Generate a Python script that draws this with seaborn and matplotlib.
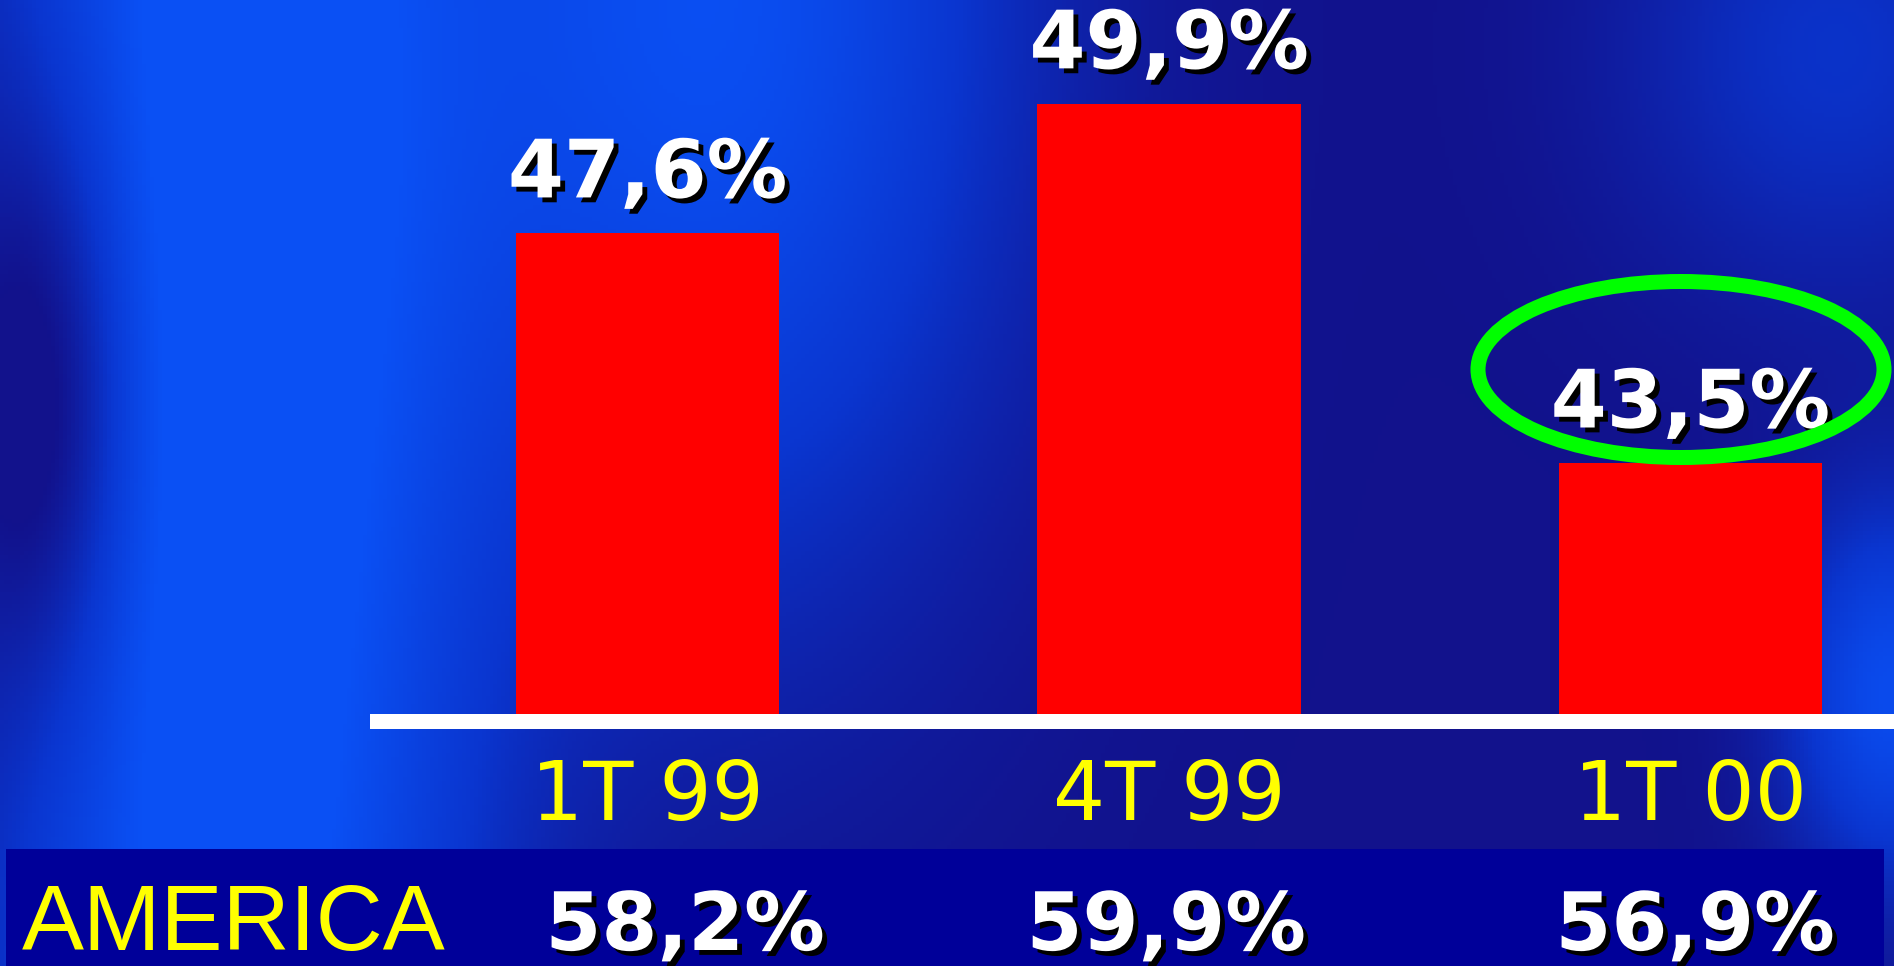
import numpy as np
import pandas as pd
import seaborn as sns
import matplotlib
matplotlib.use("Agg")
import matplotlib.pyplot as plt
import matplotlib.patheffects as pe
from matplotlib.patches import Ellipse, Rectangle
from matplotlib.colors import LinearSegmentedColormap

# Chart data
quarters = ["1T 99", "4T 99", "1T 00"]
share = [47.6, 49.9, 43.5]
america = [58.2, 59.9, 56.9]
row_title = "AMERICA"


def pct(v):
    return f"{v:.1f}".replace(".", ",") + "%"


W, H = 1894, 966
fig = plt.figure(figsize=(W / 100, H / 100), dpi=100)

# Slide-like blue background (decoration only)
bg = fig.add_axes([0, 0, 1, 1], zorder=0)
yy, xx = np.mgrid[0:1:240j, 0:1:480j]


def blob(cx, cy, sx, sy):
    return np.exp(-((xx - cx) / sx) ** 2 / 2 - ((yy - cy) / sy) ** 2 / 2)


light = (1.25 * blob(0.12, 0.45, 0.09, 1.2)
         + 0.95 * blob(0.38, 0.0, 0.11, 0.42)
         + 0.45 * blob(0.97, 0.05, 0.08, 0.18)
         + 0.9 * blob(1.0, 0.72, 0.04, 0.14)
         - 0.75 * blob(0.025, 0.42, 0.035, 0.22))
light = np.clip(light, 0, 1)
cmap = LinearSegmentedColormap.from_list("slide", ["#12128c", "#0a36d0", "#0a50f4"])
bg.imshow(light, cmap=cmap, aspect="auto", extent=[0, 1, 0, 1],
          origin="upper", vmin=0, vmax=1)
bg.axis("off")

# Bar chart
ax = fig.add_axes([377 / W, (H - 720.5) / H, 1513 / W, 720.5 / H], zorder=1)
ax.patch.set_alpha(0)
df = pd.DataFrame({"quarter": quarters, "share": share})
sns.barplot(data=df, x="quarter", y="share", color="#ff0000", saturation=1,
            width=0.505, ax=ax)
ax.set_ylim(38.92, 51.76)
ax.set_xlim(-0.519, 2.383)
ax.set_xlabel("")
ax.set_ylabel("")
ax.set_yticks([])
for side in ["top", "left", "right"]:
    ax.spines[side].set_visible(False)
ax.spines["bottom"].set_color("white")
ax.spines["bottom"].set_linewidth(10.8)
ax.tick_params(axis="x", length=0, pad=27, labelsize=59, labelcolor="#ffff00")
for lab in ax.get_xticklabels():
    lab.set_family("DejaVu Sans")

shadow = [pe.withSimplePatchShadow(offset=(3.5, -3.5), shadow_rgbFace="black", alpha=1)]

for i, v in enumerate(share):
    ax.annotate(pct(v), xy=(i, v), xytext=(0, 36), textcoords="offset pixels",
                ha="center", va="baseline", fontsize=58, fontweight="bold",
                color="white", family="DejaVu Sans", path_effects=shadow,
                annotation_clip=False)

# Highlight the latest quarter
fig.add_artist(Ellipse((1681 / W, 1 - 369.5 / H), 406 / W, 176 / H,
                       transform=fig.transFigure, fill=False,
                       edgecolor="#00ff00", linewidth=10.8, zorder=5))

# Bottom summary row
fig.add_artist(Rectangle((6 / W, 0), 1878 / W, (H - 849) / H,
                         transform=fig.transFigure, facecolor="#000099",
                         edgecolor="none", zorder=2))
fig.text(22 / W, 1 - 950 / H, row_title, ha="left", va="baseline",
         fontsize=67, color="#ffff00", family="Liberation Sans", zorder=6)
row_x = [685, 1166, 1695]
for x, v in zip(row_x, america):
    fig.text(x / W, 1 - 950 / H, pct(v), ha="center", va="baseline",
             fontsize=58, fontweight="bold", color="white",
             family="DejaVu Sans", path_effects=shadow, zorder=6)

fig.savefig("out.png", dpi=100)
